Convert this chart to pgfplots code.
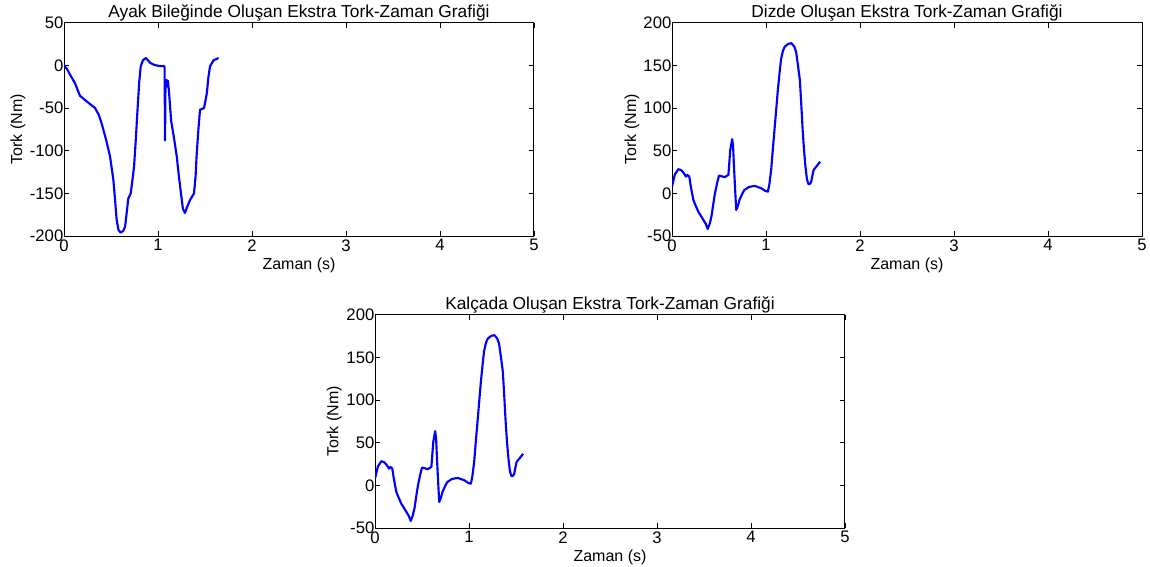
\documentclass[border=0pt]{standalone}
\usepackage{pgfplots}
\pgfplotsset{compat=1.18}
\usepackage{fontspec}
\setmainfont{Liberation Sans}
\pgfplotstableread{
x y
0.00 0
0.03 -4
0.07 -12
0.117 -21
0.17 -35.7
0.25 -43
0.33 -50
0.37 -58
0.40 -68
0.45 -88
0.49 -107
0.525 -134
0.545 -160
0.56 -181
0.58 -193
0.603 -196
0.63 -194
0.65 -189
0.67 -170
0.684 -156
0.71 -150
0.745 -119
0.765 -85
0.78 -56
0.80 -20
0.816 -1.3
0.84 6
0.872 8.6
0.90 5
0.92 2.7
0.96 0.5
1.00 -0.5
1.04 -1
1.065 -0.8
1.07 -3
1.075 -88
1.08 -20
1.09 -17
1.10 -25
1.105 -18
1.115 -28
1.14 -65
1.17 -85
1.20 -107
1.22 -128
1.24 -146
1.265 -168
1.287 -173
1.31 -166
1.34 -158
1.383 -150
1.40 -130
1.41 -107
1.43 -75
1.447 -52
1.47 -51
1.49 -50
1.52 -32.5
1.535 -15
1.553 -1.3
1.59 5.8
1.645 8.6
}\ankle
\pgfplotstableread{
x y
0.00 8
0.03 22
0.067 28.3
0.10 27
0.13 23
0.149 19.6
0.163 21.6
0.184 19.6
0.20 8
0.227 -7.7
0.25 -14
0.28 -21.5
0.333 -31
0.36 -36
0.38 -41.8
0.40 -36
0.42 -27
0.44 -12
0.457 0
0.48 12
0.50 20.8
0.53 20
0.56 18.9
0.60 21.6
0.62 51
0.64 63.5
0.65 55
0.66 30
0.67 8
0.683 -19.5
0.70 -15
0.718 -7.7
0.745 -1
0.77 4
0.82 7.5
0.88 8.7
0.95 6
0.99 3
1.02 2
1.035 10
1.055 27.5
1.07 48
1.09 74
1.11 100
1.126 121
1.145 142
1.16 157
1.18 167
1.20 172
1.235 175
1.27 176
1.30 172
1.32 166
1.34 150
1.36 133
1.375 105
1.39 74
1.405 50
1.42 31
1.435 17
1.45 11
1.465 11
1.48 13
1.49 19
1.507 27.5
1.54 32
1.576 37
}\knee
\pgfplotsset{
  every axis title/.style={at={(axis description cs:0.5,1)}, anchor=base, yshift=4pt, inner sep=0pt, font=\fontsize{13}{15}\selectfont},
  mystyle/.style={
    scale only axis, width=352.5pt, height=160pt,
    xmin=0, xmax=5, xtick={0,1,2,3,4,5},
    axis line style={line width=0.75pt},
    tick style={black, line width=0.6pt},
    major tick length=4pt,
    tick align=inside,
    font=\fontsize{12}{14}\selectfont,
    ticklabel style={font=\fontsize{12.5}{14}\selectfont},
    /pgf/number format/assume math mode=true,
    xlabel style={at={(axis description cs:0.5,0)}, anchor=base, yshift=-25pt, inner sep=0pt},
    xticklabel style={yshift=1pt},
    yticklabel style={xshift=3pt},
    scaled ticks=false,
    xlabel={Zaman (s)}, ylabel={Tork (Nm)},
  },
  myline/.style={blue, line width=1.6pt, line join=round},
}
\begin{document}
\begin{tikzpicture}
\path[use as bounding box] (0,0) rectangle (862.5pt,-425.25pt);
\begin{axis}[mystyle, at={(48pt,-177pt)}, anchor=south west,
  ymin=-200, ymax=50, ytick={-200,-150,-100,-50,0,50},
  ylabel style={at={(axis description cs:-0.098,0.5)}, anchor=center, inner sep=0pt},
  title={Ayak Bileğinde Oluşan Ekstra Tork-Zaman Grafiği}]
\addplot[myline] table[x=x,y=y] {\ankle};
\end{axis}
\begin{axis}[mystyle, at={(504pt,-177pt)}, anchor=south west,
  ymin=-50, ymax=200, ytick={-50,0,50,100,150,200},
  ylabel style={at={(axis description cs:-0.085,0.5)}, anchor=center, inner sep=0pt},
  title={Dizde Oluşan Ekstra Tork-Zaman Grafiği}]
\addplot[myline] table[x=x,y=y] {\knee};
\end{axis}
\begin{axis}[mystyle, at={(281.25pt,-396pt)}, anchor=south west,
  ymin=-50, ymax=200, ytick={-50,0,50,100,150,200},
  ylabel style={at={(axis description cs:-0.087,0.5)}, anchor=center, inner sep=0pt},
  title={Kalçada Oluşan Ekstra Tork-Zaman Grafiği}]
\addplot[myline] table[x=x,y=y] {\knee};
\end{axis}
\end{tikzpicture}
\end{document}
